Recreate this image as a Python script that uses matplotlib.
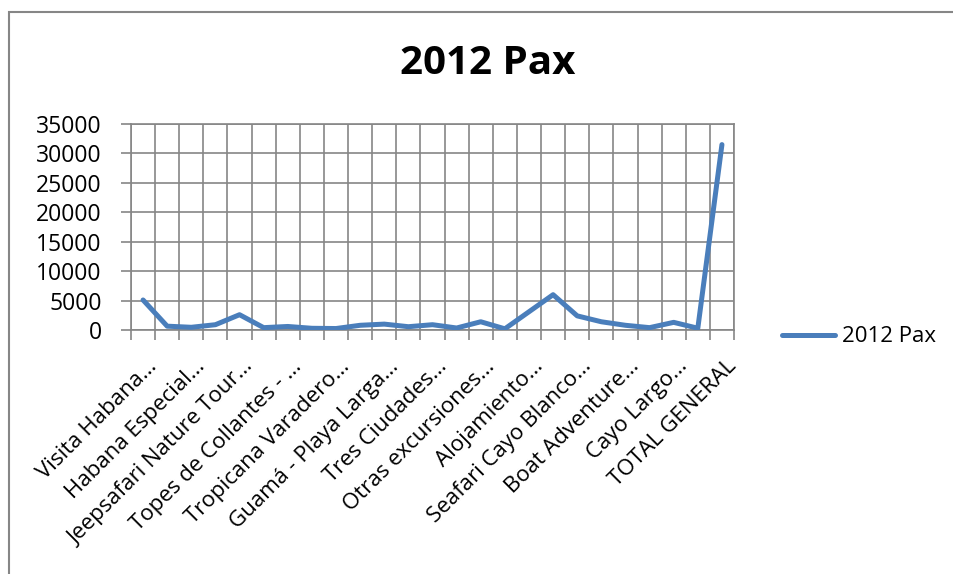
import matplotlib.pyplot as plt
from matplotlib.patches import Rectangle
from matplotlib.transforms import ScaledTranslation
import numpy as np

plt.rcParams['font.family'] = ['Open Sans', 'DejaVu Sans']

# 25 categories, only every other label is shown on the axis
labels = ['Visita Habana…', 'Habana Especial…', 'Jeepsafari Nature Tour…',
          'Topes de Collantes - …', 'Tropicana Varadero…', 'Guamá - Playa Larga…',
          'Tres Ciudades…', 'Otras excursiones…', 'Alojamiento…',
          'Seafari Cayo Blanco…', 'Boat Adventure…', 'Cayo Largo…', 'TOTAL GENERAL']
pax = [5100, 650, 460, 900, 2600, 400, 600, 290, 250, 800, 1000, 560, 900,
       340, 1400, 200, 3100, 6000, 2400, 1400, 800, 400, 1300, 300, 31500]
series_name = '2012 Pax'

W, H = 954, 574
fig = plt.figure(figsize=(W / 100, H / 100), dpi=100)
ax = fig.add_axes([131 / W, 1 - 330 / H, (734 - 131) / W, (330 - 124) / H])

grid_c = '#868686'
x = np.arange(len(pax))
ax.plot(x, pax, color='#4A7EBB', lw=3.6, solid_capstyle='round',
        solid_joinstyle='round', label=series_name, zorder=3)

ax.set_xlim(-0.5, len(pax) - 0.5)
ax.set_ylim(0, 35000)
ax.set_yticks(np.arange(0, 35001, 5000))

ax.set_xticks(x[::2])
ax.set_xticklabels(labels, rotation=45, ha='right', va='center',
                   rotation_mode='anchor')
ax.set_xticks(np.arange(-0.5, len(pax), 1), minor=True)
ax.tick_params(axis='x', which='major', length=0, pad=16, labelsize=16)
ax.tick_params(axis='x', which='minor', length=7, width=1.2, color=grid_c)
ax.tick_params(axis='y', length=7, width=1.2, color=grid_c, labelsize=16.5, pad=14)

# nudge the rotated labels right/down like the original
shift = ScaledTranslation(11 / 100, -11 / 100, fig.dpi_scale_trans)
for lab in ax.get_xticklabels():
    lab.set_transform(lab.get_transform() + shift)

ax.grid(True, which='minor', axis='x', color=grid_c, lw=1.2)
ax.grid(True, which='major', axis='y', color=grid_c, lw=1.2)
for s in ax.spines.values():
    s.set_color(grid_c)
    s.set_linewidth(1.2)

fig.text(488 / W, 1 - 63 / H, '2012 Pax', ha='center', va='center',
         fontsize=29, fontweight='bold')

fig.legend(loc='center left', bbox_to_anchor=(782 / W, 1 - 337 / H),
           frameon=False, borderpad=0, borderaxespad=0, handlelength=2.4,
           handletextpad=0.3, fontsize=16)

fig.patches.append(Rectangle((9 / W, -0.1), 1.2, 1 - 12 / H + 0.1,
                             transform=fig.transFigure, fill=False,
                             edgecolor=grid_c, lw=1.5))

fig.savefig('out.png', dpi=100)
